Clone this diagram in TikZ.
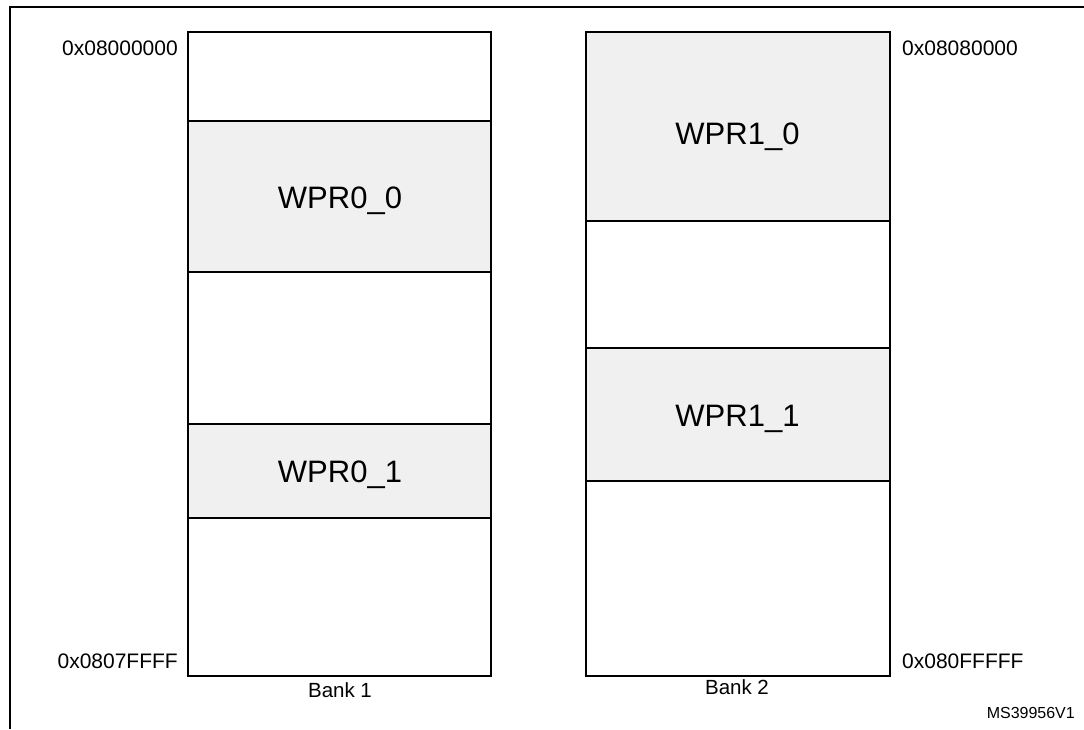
\documentclass[tikz,border=0pt]{standalone}
\usepackage{fontspec}
\setmainfont{Liberation Sans}
\definecolor{wprgray}{HTML}{F0F0F0}
\begin{document}
\begin{tikzpicture}[x=1pt,y=-1pt,
  region/.style={draw=black, line width=1.5pt, inner sep=0pt, anchor=center, fill=white},
  wpr/.style={region, fill=wprgray},
  wprtext/.style={inner sep=0pt, font=\fontsize{31}{31}\selectfont},
  addr/.style={inner sep=0pt, font=\fontsize{21}{21}\selectfont},
  bank/.style={inner sep=0pt, font=\fontsize{20.5}{20.5}\selectfont},
  tag/.style={inner sep=0pt, font=\fontsize{16}{16}\selectfont}]
\useasboundingbox (0,0) rectangle (1084,729);
\fill[white] (0,0) rectangle (1084,729);
% frame
\draw[line width=2.5pt] (10,729) -- (10,7) -- (1090,7);
% Bank 1
\node[region, minimum width=303pt, minimum height=89pt]  (b1a) at (339.5,76.5) {};
\node[wpr,    minimum width=303pt, minimum height=151pt] (b1b) at (339.5,196.5) {};
\node[region, minimum width=303pt, minimum height=152pt] (b1c) at (339.5,348) {};
\node[wpr,    minimum width=303pt, minimum height=94pt]  (b1d) at (339.5,471) {};
\node[region, minimum width=303pt, minimum height=158pt] (b1e) at (339.5,597) {};
% Bank 2
\node[wpr,    minimum width=304pt, minimum height=189pt] (b2a) at (738,126.5) {};
\node[region, minimum width=304pt, minimum height=127pt] (b2b) at (738,284.5) {};
\node[wpr,    minimum width=304pt, minimum height=133pt] (b2c) at (738,414.5) {};
\node[region, minimum width=304pt, minimum height=195pt] (b2d) at (738,578.5) {};
% region labels
\node[wprtext] (t00) at (340,200.5) {WPR0\_0};
\node[wprtext] (t01) at (340,475) {WPR0\_1};
\node[wprtext] (t10) at (737.5,136.5) {WPR1\_0};
\node[wprtext] (t11) at (737.5,418.5) {WPR1\_1};
% addresses
\node[addr, anchor=east] (a1) at (178,48) {0x08000000};
\node[addr, anchor=east] (a2) at (178,661) {0x0807FFFF};
\node[addr, anchor=west] (a3) at (902,48) {0x08080000};
\node[addr, anchor=west] (a4) at (902,661) {0x080FFFFF};
% bank labels
\node[bank] (l1) at (340,690) {Bank 1};
\node[bank] (l2) at (737,687) {Bank 2};
\node[tag, anchor=east] (ms) at (1075,713) {MS39956V1};
\end{tikzpicture}
\end{document}
